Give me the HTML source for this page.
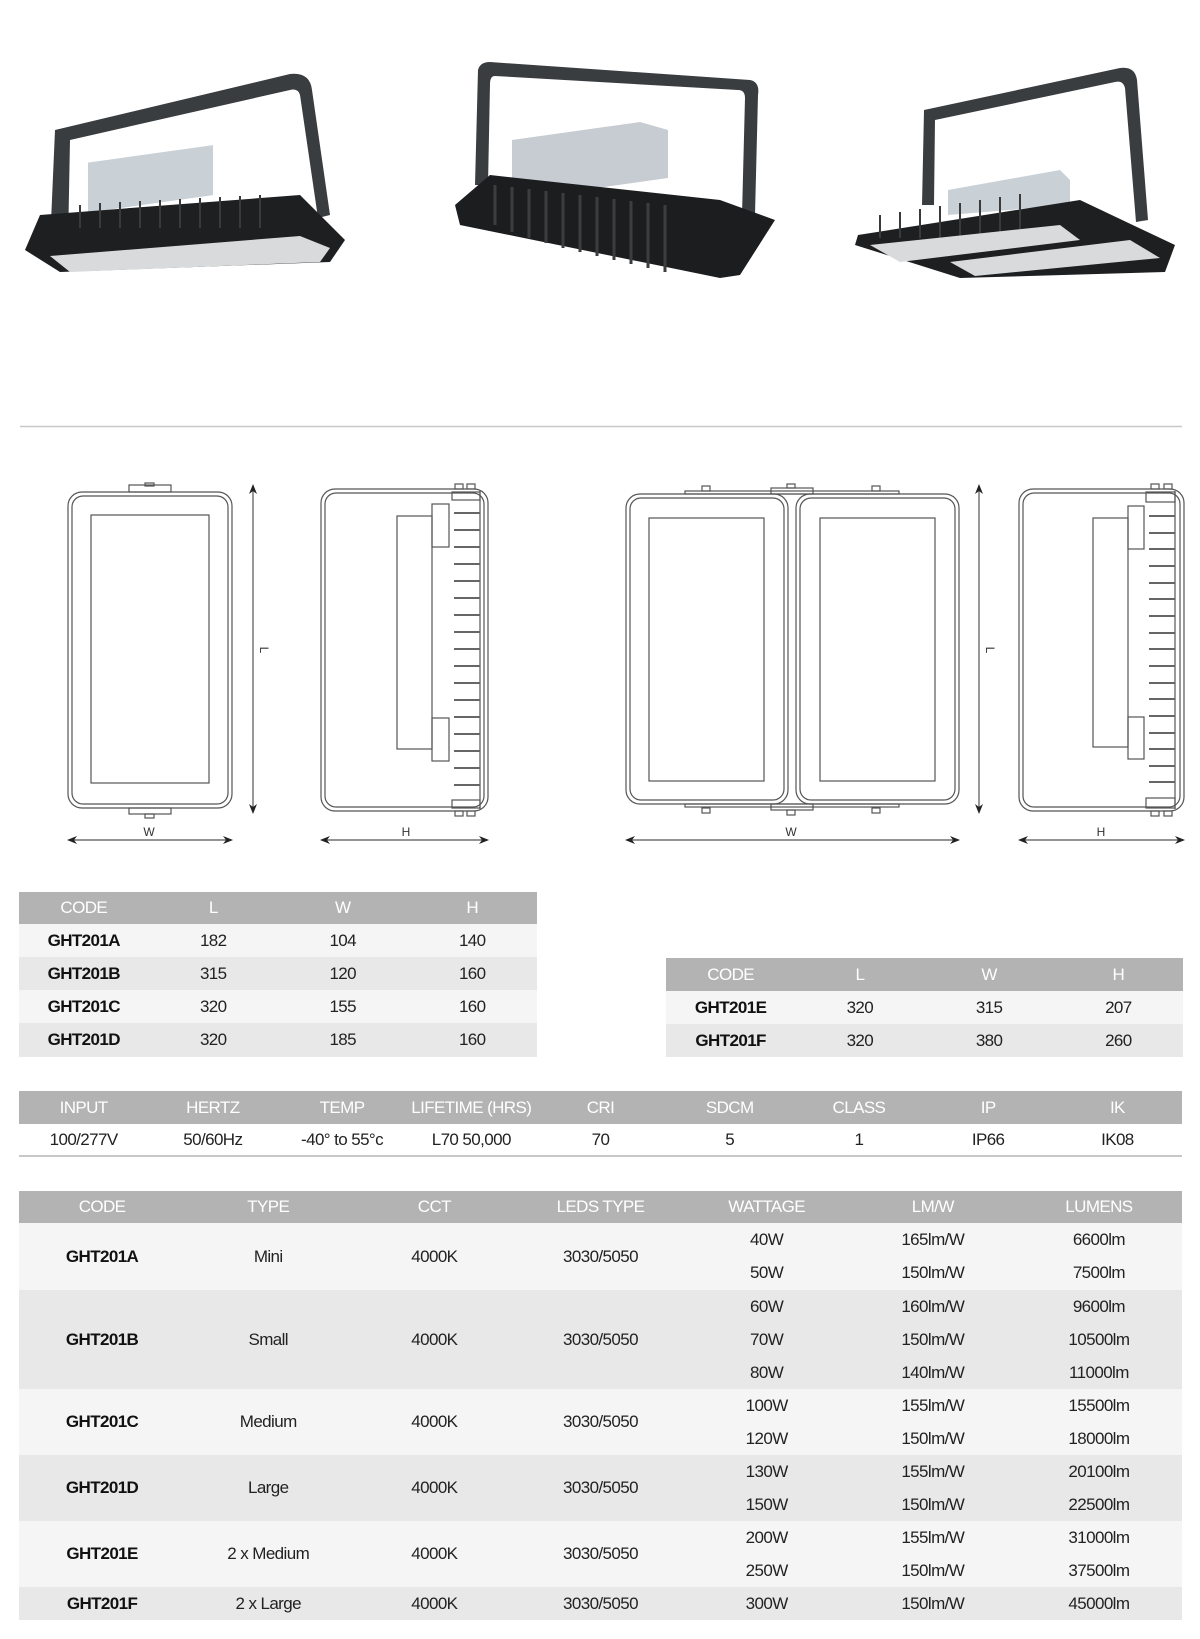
<!DOCTYPE html>
<html><head><meta charset="utf-8">
<style>
*{margin:0;padding:0;box-sizing:border-box}
body{width:1200px;height:1639px;background:#fff;position:relative;overflow:hidden;font-family:"Liberation Sans",sans-serif;color:#222}
table{position:absolute;border-collapse:collapse;table-layout:fixed}
td,th{text-align:center;vertical-align:middle;padding:0;font-size:17px;letter-spacing:-0.6px}
th{background:#b3b3b3;color:#fff;font-weight:normal}
td.c{font-weight:bold;color:#111}
.l{background:#f5f5f5}.d{background:#e8e8e8}
svg{position:absolute;left:0;top:0}
</style></head><body>
<svg width="1200" height="900" viewBox="0 0 1200 900">
<!-- product images -->
<g>
 <!-- lamp 1 -->
 <path d="M50 245 L55 130 L290 74 Q310 72 312 90 L330 215 L318 218 L300 95 Q298 88 290 90 L70 140 L68 245 Z" fill="#3a3d40"/>
 <rect x="88" y="155" width="125" height="50" fill="#c9d0d6" transform="skewY(-8) translate(0,20)"/>
 <path d="M40 215 L300 195 L345 240 L330 262 L60 272 L25 250 Z" fill="#1e1f21"/>
 <g stroke="#3a3a3a" stroke-width="2">
  <line x1="80" y1="205" x2="80" y2="228"/><line x1="100" y1="203" x2="100" y2="228"/><line x1="120" y1="202" x2="120" y2="228"/><line x1="140" y1="201" x2="140" y2="228"/><line x1="160" y1="200" x2="160" y2="228"/><line x1="180" y1="199" x2="180" y2="228"/><line x1="200" y1="198" x2="200" y2="228"/><line x1="220" y1="197" x2="220" y2="228"/><line x1="240" y1="196" x2="240" y2="228"/><line x1="260" y1="195" x2="260" y2="228"/>
 </g>
 <path d="M50 256 L300 236 L330 248 L320 262 L70 272 Z" fill="#d8dadc"/>
 <!-- lamp 2 -->
 <path d="M475 185 L478 70 Q480 62 490 62 L750 80 Q760 82 758 95 L755 215 L742 215 L745 98 Q745 90 738 90 L495 76 Q490 76 490 84 L488 185 Z" fill="#3a3d40"/>
 <path d="M512 140 L640 122 L668 130 L668 178 L540 196 L512 185 Z" fill="#c6ccd2"/>
 <path d="M455 205 L490 175 L720 200 L775 220 L740 275 L720 278 L460 225 Z" fill="#1c1d1f"/>
 <g stroke="#3d3d3d" stroke-width="3">
  <line x1="495" y1="185" x2="495" y2="225"/><line x1="512" y1="187" x2="512" y2="232"/><line x1="529" y1="189" x2="529" y2="238"/><line x1="546" y1="191" x2="546" y2="243"/><line x1="563" y1="193" x2="563" y2="248"/><line x1="580" y1="195" x2="580" y2="252"/><line x1="597" y1="197" x2="597" y2="256"/><line x1="614" y1="199" x2="614" y2="260"/><line x1="631" y1="201" x2="631" y2="264"/><line x1="648" y1="203" x2="648" y2="268"/><line x1="665" y1="205" x2="665" y2="272"/>
 </g>
 <!-- lamp 3 -->
 <path d="M922 205 L924 110 L1120 68 Q1135 66 1137 80 L1148 220 L1136 222 L1125 88 Q1123 80 1115 82 L935 120 L934 205 Z" fill="#3a3d40"/>
 <path d="M948 190 L1060 170 L1070 180 L1070 205 L948 215 Z" fill="#c9d0d6"/>
 <path d="M858 235 L1080 200 L1175 245 L1165 272 L960 278 L855 245 Z" fill="#1e1f21"/>
 <g stroke="#3a3a3a" stroke-width="2">
  <line x1="880" y1="215" x2="880" y2="238"/><line x1="900" y1="212" x2="900" y2="238"/><line x1="920" y1="209" x2="920" y2="238"/><line x1="940" y1="206" x2="940" y2="238"/><line x1="960" y1="203" x2="960" y2="238"/><line x1="980" y1="200" x2="980" y2="238"/><line x1="1000" y1="197" x2="1000" y2="238"/><line x1="1020" y1="194" x2="1020" y2="238"/>
 </g>
 <path d="M870 245 L1060 225 L1080 240 L900 262 Z" fill="#d8dadc"/>
 <path d="M950 262 L1130 240 L1160 258 L975 276 Z" fill="#d8dadc"/>
</g>
<line x1="20" y1="426.5" x2="1182" y2="426.5" stroke="#c8c8c8" stroke-width="1.5"/>
<g fill="none" stroke="#555" stroke-width="1.2">
 <!-- drawing 1 -->
 <rect x="68" y="492" width="164" height="316" rx="14"/>
 <rect x="72" y="496" width="156" height="308" rx="11"/>
 <rect x="91" y="515" width="118" height="268"/>
 <rect x="129" y="485" width="42" height="7"/><rect x="145" y="483" width="9" height="3"/>
 <rect x="129" y="808" width="42" height="6"/><rect x="145" y="814" width="9" height="4"/>
 <line x1="253" y1="487" x2="253" y2="811"/>
 <line x1="70" y1="840" x2="230" y2="840"/>
 <!-- drawing 2 -->
 <rect x="321" y="489" width="167" height="322" rx="14"/>
 <rect x="325" y="493" width="159" height="314" rx="11"/>
 <line x1="480" y1="491" x2="480" y2="809"/>
 <rect x="397" y="516" width="35" height="233"/>
 <rect x="432" y="504" width="17" height="43"/><rect x="432" y="718" width="17" height="43"/>
 <rect x="452" y="492" width="28" height="8"/><rect x="452" y="800" width="28" height="8"/>
 <rect x="455" y="484" width="8" height="5"/><rect x="467" y="484" width="8" height="5"/>
 <rect x="455" y="811" width="8" height="5"/><rect x="467" y="811" width="8" height="5"/>
 <line x1="323" y1="840" x2="486" y2="840"/>
 <!-- drawing 3 -->
 <rect x="626" y="494" width="162" height="310" rx="14"/>
 <rect x="630" y="498" width="154" height="302" rx="11"/>
 <rect x="796" y="494" width="163" height="310" rx="14"/>
 <rect x="800" y="498" width="155" height="302" rx="11"/>
 <rect x="649" y="518" width="115" height="263"/>
 <rect x="820" y="518" width="115" height="263"/>
 <rect x="685" y="491" width="214" height="3"/><rect x="771" y="488" width="42" height="6"/>
 <rect x="702" y="486" width="8" height="5"/><rect x="787" y="484" width="8" height="4"/><rect x="872" y="486" width="8" height="5"/>
 <rect x="685" y="804" width="214" height="3"/><rect x="771" y="804" width="42" height="6"/>
 <rect x="702" y="808" width="8" height="5"/><rect x="787" y="810" width="8" height="5"/><rect x="872" y="808" width="8" height="5"/>
 <line x1="979" y1="487" x2="979" y2="811"/>
 <line x1="628" y1="840" x2="957" y2="840"/>
 <!-- drawing 4 -->
 <rect x="1019" y="489" width="165" height="322" rx="14"/>
 <rect x="1023" y="493" width="157" height="314" rx="11"/>
 <line x1="1175" y1="491" x2="1175" y2="809"/>
 <rect x="1093" y="518" width="35" height="229"/>
 <rect x="1128" y="506" width="16" height="43"/><rect x="1128" y="717" width="16" height="42"/>
 <rect x="1146" y="492" width="29" height="10"/><rect x="1146" y="798" width="29" height="10"/>
 <rect x="1151" y="484" width="8" height="5"/><rect x="1164" y="484" width="8" height="5"/>
 <rect x="1151" y="811" width="8" height="5"/><rect x="1164" y="811" width="8" height="5"/>
 <line x1="1021" y1="840" x2="1182" y2="840"/>
</g>
<g stroke="#555" stroke-width="2.2">
 <line x1="480" y1="517" x2="480" y2="517"/>
</g>
<g stroke="#666" stroke-width="2">
 <line x1="454" y1="513" x2="480" y2="513"/><line x1="454" y1="530" x2="480" y2="530"/><line x1="454" y1="547" x2="480" y2="547"/><line x1="454" y1="564" x2="480" y2="564"/><line x1="454" y1="581" x2="480" y2="581"/><line x1="454" y1="598" x2="480" y2="598"/><line x1="454" y1="615" x2="480" y2="615"/><line x1="454" y1="632" x2="480" y2="632"/><line x1="454" y1="649" x2="480" y2="649"/><line x1="454" y1="666" x2="480" y2="666"/><line x1="454" y1="683" x2="480" y2="683"/><line x1="454" y1="700" x2="480" y2="700"/><line x1="454" y1="717" x2="480" y2="717"/><line x1="454" y1="734" x2="480" y2="734"/><line x1="454" y1="751" x2="480" y2="751"/><line x1="454" y1="768" x2="480" y2="768"/><line x1="454" y1="785" x2="480" y2="785"/>
 <line x1="1149" y1="516" x2="1175" y2="516"/><line x1="1149" y1="533" x2="1175" y2="533"/><line x1="1149" y1="549" x2="1175" y2="549"/><line x1="1149" y1="566" x2="1175" y2="566"/><line x1="1149" y1="583" x2="1175" y2="583"/><line x1="1149" y1="599" x2="1175" y2="599"/><line x1="1149" y1="616" x2="1175" y2="616"/><line x1="1149" y1="633" x2="1175" y2="633"/><line x1="1149" y1="649" x2="1175" y2="649"/><line x1="1149" y1="666" x2="1175" y2="666"/><line x1="1149" y1="683" x2="1175" y2="683"/><line x1="1149" y1="699" x2="1175" y2="699"/><line x1="1149" y1="716" x2="1175" y2="716"/><line x1="1149" y1="733" x2="1175" y2="733"/><line x1="1149" y1="749" x2="1175" y2="749"/><line x1="1149" y1="766" x2="1175" y2="766"/><line x1="1149" y1="782" x2="1175" y2="782"/>
</g>
<g fill="#222">
 <path d="M253 484 l-4 10 l4 -3 l4 3 z"/><path d="M253 814 l-4 -10 l4 3 l4 -3 z"/>
 <path d="M67 840 l10 -4 l-3 4 l3 4 z"/><path d="M233 840 l-10 -4 l3 4 l-3 4 z"/>
 <path d="M320 840 l10 -4 l-3 4 l3 4 z"/><path d="M489 840 l-10 -4 l3 4 l-3 4 z"/>
 <path d="M979 484 l-4 10 l4 -3 l4 3 z"/><path d="M979 814 l-4 -10 l4 3 l4 -3 z"/>
 <path d="M625 840 l10 -4 l-3 4 l3 4 z"/><path d="M960 840 l-10 -4 l3 4 l-3 4 z"/>
 <path d="M1018 840 l10 -4 l-3 4 l3 4 z"/><path d="M1185 840 l-10 -4 l3 4 l-3 4 z"/>
</g>
<g font-family="Liberation Sans, sans-serif" font-size="12" fill="#333" text-anchor="middle">
 <text x="149" y="836">W</text><text x="406" y="836">H</text>
 <text x="791" y="836">W</text><text x="1101" y="836">H</text>
 <text x="0" y="0" transform="translate(260,650) rotate(90)">L</text>
 <text x="0" y="0" transform="translate(986,650) rotate(90)">L</text>
</g>
</svg>

<table style="left:19px;top:892px;width:518px">
<tr style="height:32px"><th>CODE</th><th>L</th><th>W</th><th>H</th></tr>
<tr style="height:33px" class="l"><td class="c">GHT201A</td><td>182</td><td>104</td><td>140</td></tr>
<tr style="height:33px" class="d"><td class="c">GHT201B</td><td>315</td><td>120</td><td>160</td></tr>
<tr style="height:33px" class="l"><td class="c">GHT201C</td><td>320</td><td>155</td><td>160</td></tr>
<tr style="height:34px" class="d"><td class="c">GHT201D</td><td>320</td><td>185</td><td>160</td></tr>
</table>

<table style="left:666px;top:958px;width:517px">
<tr style="height:33px"><th>CODE</th><th>L</th><th>W</th><th>H</th></tr>
<tr style="height:33px" class="l"><td class="c">GHT201E</td><td>320</td><td>315</td><td>207</td></tr>
<tr style="height:33px" class="d"><td class="c">GHT201F</td><td>320</td><td>380</td><td>260</td></tr>
</table>

<table style="left:19px;top:1091px;width:1163px;border-bottom:2px solid #c8c8c8">
<tr style="height:33px"><th>INPUT</th><th>HERTZ</th><th>TEMP</th><th>LIFETIME (HRS)</th><th>CRI</th><th>SDCM</th><th>CLASS</th><th>IP</th><th>IK</th></tr>
<tr style="height:32px"><td>100/277V</td><td>50/60Hz</td><td>-40° to 55°c</td><td>L70 50,000</td><td>70</td><td>5</td><td>1</td><td>IP66</td><td>IK08</td></tr>
</table>

<table style="left:19px;top:1191px;width:1163px">
<tr style="height:32px"><th>CODE</th><th>TYPE</th><th>CCT</th><th>LEDS TYPE</th><th>WATTAGE</th><th>LM/W</th><th>LUMENS</th></tr>
<tr style="height:33px" class="l"><td class="c" rowspan="2">GHT201A</td><td rowspan="2">Mini</td><td rowspan="2">4000K</td><td rowspan="2">3030/5050</td><td>40W</td><td>165lm/W</td><td>6600lm</td></tr>
<tr style="height:34px" class="l"><td>50W</td><td>150lm/W</td><td>7500lm</td></tr>
<tr style="height:33px" class="d"><td class="c" rowspan="3">GHT201B</td><td rowspan="3">Small</td><td rowspan="3">4000K</td><td rowspan="3">3030/5050</td><td>60W</td><td>160lm/W</td><td>9600lm</td></tr>
<tr style="height:33px" class="d"><td>70W</td><td>150lm/W</td><td>10500lm</td></tr>
<tr style="height:33px" class="d"><td>80W</td><td>140lm/W</td><td>11000lm</td></tr>
<tr style="height:33px" class="l"><td class="c" rowspan="2">GHT201C</td><td rowspan="2">Medium</td><td rowspan="2">4000K</td><td rowspan="2">3030/5050</td><td>100W</td><td>155lm/W</td><td>15500lm</td></tr>
<tr style="height:33px" class="l"><td>120W</td><td>150lm/W</td><td>18000lm</td></tr>
<tr style="height:33px" class="d"><td class="c" rowspan="2">GHT201D</td><td rowspan="2">Large</td><td rowspan="2">4000K</td><td rowspan="2">3030/5050</td><td>130W</td><td>155lm/W</td><td>20100lm</td></tr>
<tr style="height:33px" class="d"><td>150W</td><td>150lm/W</td><td>22500lm</td></tr>
<tr style="height:33px" class="l"><td class="c" rowspan="2">GHT201E</td><td rowspan="2">2 x Medium</td><td rowspan="2">4000K</td><td rowspan="2">3030/5050</td><td>200W</td><td>155lm/W</td><td>31000lm</td></tr>
<tr style="height:33px" class="l"><td>250W</td><td>150lm/W</td><td>37500lm</td></tr>
<tr style="height:33px" class="d"><td class="c">GHT201F</td><td>2 x Large</td><td>4000K</td><td>3030/5050</td><td>300W</td><td>150lm/W</td><td>45000lm</td></tr>
</table>
</body></html>
